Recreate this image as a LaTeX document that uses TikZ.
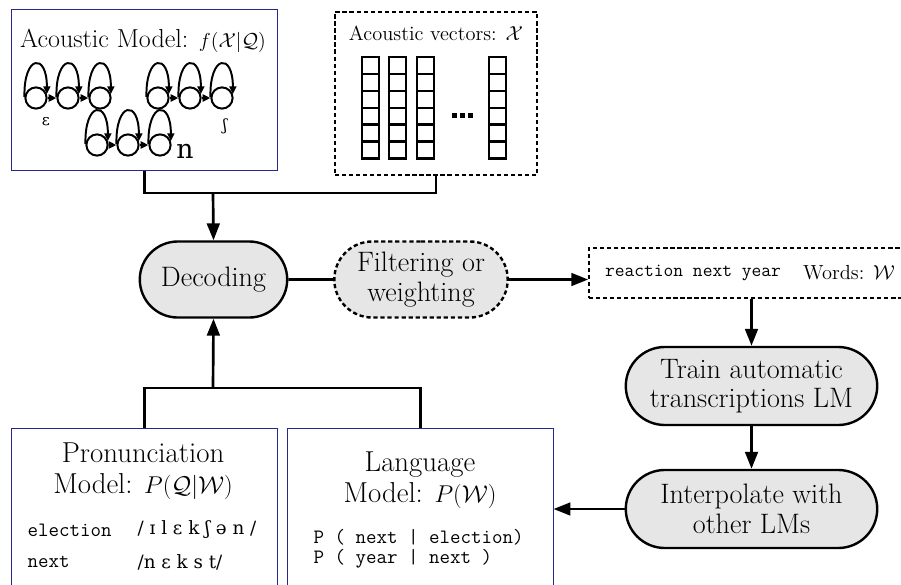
\documentclass[tikz,border=0pt]{standalone}
\usepackage{amsmath,amssymb}
\usepackage{fontspec}
\newfontfamily\ipafont{DejaVu Serif}
\usepackage{tikz}
\usetikzlibrary{arrows.meta,positioning,shapes.misc,calc}
\definecolor{boxblue}{RGB}{40,40,140}
\definecolor{procgray}{RGB}{230,230,230}
\newcommand{\mathsmall}[1]{{\fontsize{16.5}{18}\selectfont$#1$}}

\begin{document}
\begin{tikzpicture}[x=0.025cm, y=0.025cm,
  proc/.style={rounded rectangle, draw, line width=1.7pt, fill=procgray, align=center, font=\fontsize{20}{21}\selectfont, minimum height=1.9cm, inner sep=2pt},
  modelbox/.style={rectangle, draw=boxblue, line width=0.7pt, minimum width=6.625cm, minimum height=4.05cm},
  dashbox/.style={rectangle, draw, line width=1.4pt, dash pattern=on 3pt off 2pt},
  title/.style={align=center, font=\fontsize{20.5}{22}\selectfont, inner sep=1pt},
  small/.style={font=\fontsize{14.5}{16}\selectfont, inner sep=1pt},
  code/.style={font=\ttfamily\fontsize{14.5}{14.5}\selectfont, inner sep=1pt, align=left},
  arr/.style={-{Triangle[length=12pt,width=9pt]}, line width=1.9pt},
  conn/.style={line width=1.9pt},
  state/.style={circle, draw, line width=1.4pt, minimum size=0.53cm, inner sep=0pt},
  hmmarr/.style={-{Triangle[length=5.5pt,width=5pt]}, line width=1.4pt},
  cell/.style={line width=1.6pt}
]
\useasboundingbox (0,0) rectangle (901,-585);

% Acoustic model with the HMMs
\node[modelbox, minimum height=4cm] (am) at (144.5,-90) {};
\node[title, font=\fontsize{18.5}{20}\selectfont] (amtitle) at (143,-41) {Acoustic Model: {\fontsize{15.5}{17}\selectfont$f(\mathcal{X}|\mathcal{Q})$}};
\node[state] (e1) at (36,-98) {};
\node[state] (e2) at (68,-98) {};
\node[state] (e3) at (100,-98) {};
\node[state] (s1) at (158,-98) {};
\node[state] (s2) at (190,-98) {};
\node[state] (s3) at (222,-98) {};
\node[state] (n1) at (97,-145) {};
\node[state] (n2) at (128,-145) {};
\node[state] (n3) at (160,-145) {};
\foreach \s in {e1,e2,e3,s1,s2,s3,n1,n2,n3}
  \draw[hmmarr] (\s.175) .. controls +(-1,42) and +(0,42) .. (\s.20);
\foreach \a/\b in {e1/e2,e2/e3,s1/s2,s2/s3,n1/n2,n2/n3}
  \draw[hmmarr] (\a) -- (\b);
\node[font=\ipafont\fontsize{11}{12}\selectfont] (elabel) at (46,-122) {ɛ};
\node[font=\ipafont\fontsize{11}{12}\selectfont] (shlabel) at (225,-126) {ʃ};
\node[font=\ipafont\fontsize{19}{20}\selectfont] (nlabel) at (185,-151) {n};

% Acoustic vectors
\node[dashbox, minimum width=5.05cm, minimum height=4.075cm] (av) at (436,-93.5) {};
\node[small] (avtitle) at (436,-33) {Acoustic vectors: $\mathcal{X}$};
\foreach \cx in {362,389,417,489}
  \foreach \r in {0,...,5}
    \draw[cell] (\cx,{-57-16.9*\r}) rectangle ++(17,-16.9);
\foreach \d in {452,460,468}
  \fill (\d,-113) rectangle ++(5,-5);

% Decoding and filtering
\node[proc, minimum width=3.825cm] (dec) at (213.5,-279.5) {Decoding};
\node[proc, minimum width=4.475cm, dash pattern=on 3pt off 2pt] (filt) at (421,-279.5) {Filtering or\\weighting};
\coordinate (topjoin) at (213,-193);
\draw[conn] (am.south) |- (topjoin) -| (av.south);
\draw[arr] (topjoin) -- (dec.north);
\draw[conn] (dec) -- (filt);

% Words
\node[dashbox, line width=1.1pt, minimum width=7.825cm, minimum height=1.25cm] (words) at (745.5,-273) {};
\node[font=\ttfamily\fontsize{13.5}{14}\selectfont, inner sep=1pt] (wtext) at (693,-273) {reaction next year};
\node[small] (wlabel) at (849,-273) {Words: $\mathcal{W}$};
\draw[arr] (filt.east) -- (filt.east -| words.west);

% LM training
\node[proc, minimum width=6.425cm, minimum height=1.95cm] (train) at (751.5,-386) {Train automatic\\transcriptions LM};
\node[proc, minimum width=6.425cm, minimum height=1.95cm] (interp) at (751.5,-509) {Interpolate with\\other LMs};
\draw[arr] (train.north |- words.south) -- (train.north);
\draw[arr] (train) -- (interp);

% Pronunciation model
\node[modelbox] (pm) at (144.5,-510) {};
\node[title] (pmtitle) at (143,-471) {Pronunciation\\Model: \mathsmall{P(\mathcal{Q}|\mathcal{W})}};
\node[code, anchor=west] (pmw1) at (26,-530) {election};
\node[code, anchor=west] (pmw2) at (26,-562) {next};
\node[font=\ipafont\fontsize{13}{14}\selectfont, anchor=west, inner sep=1pt] (pmp1) at (136,-530) {/ ɪ l ɛ k ʃ ə n /};
\node[font=\ipafont\fontsize{13}{14}\selectfont, anchor=west, inner sep=1pt] (pmp2) at (136,-562) {/n ɛ k s t/};

% Language model
\node[modelbox] (lm) at (420.5,-510) {};
\node[title] (lmtitle) at (420,-480) {Language\\Model: \mathsmall{P(\mathcal{W})}};
\node[code, anchor=west] (lmtab) at (312,-549) {P ( next | election)\\P ( year | next )};
\draw[arr] (interp.west) -- (interp.west -| lm.east);

% Join into decoding
\coordinate (botjoin) at (213,-388);
\draw[conn] (pm.north) |- (botjoin) -| (lm.north);
\draw[arr] (botjoin) -- (dec.south);

\end{tikzpicture}
\end{document}
